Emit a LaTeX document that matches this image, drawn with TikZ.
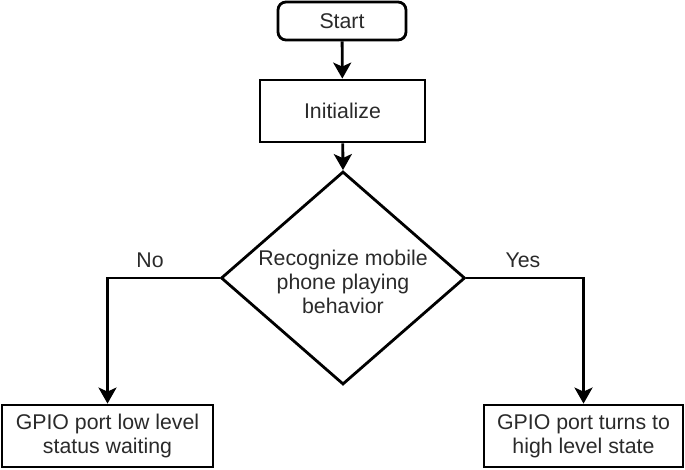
\documentclass[tikz,border=0pt]{standalone}
\usepackage{fontspec}
\setmainfont{Liberation Sans}
\usetikzlibrary{shapes.geometric,arrows.meta}
\definecolor{txt}{HTML}{2a2a2a}
\begin{document}
\begin{tikzpicture}[x=1pt,y=1pt,
  box/.style={draw,line width=2.8pt,inner sep=0pt,text=txt,font=\fontsize{21.3}{24}\selectfont,align=center},
  lbl/.style={text=txt,font=\fontsize{21.3}{24}\selectfont,inner sep=0pt},
  arr/.style={line width=2.8pt,-{Triangle[length=16pt,width=18pt,inset=4pt]}}]
\useasboundingbox (0,0) rectangle (685,470);
\node[box,rounded corners=8pt,minimum width=128pt,minimum height=38pt] (start) at (342,449) {Start};
\node[box,minimum width=165pt,minimum height=62pt] (init) at (342.5,359) {Initialize};
\node[draw,line width=2.8pt,diamond,minimum width=244pt,minimum height=213pt,inner sep=0pt] (dia) at (343,192) {};
\node[lbl,align=center] (diatext) at (343,188) {Recognize mobile\\phone playing\\behavior};
\node[box,minimum width=211pt,minimum height=62pt] (left) at (107.5,34) {GPIO port low level\\status waiting};
\node[box,minimum width=199pt,minimum height=62pt] (right) at (583.5,34) {GPIO port turns to\\high level state};
\draw[arr] (start) -- (init);
\draw[arr] (init) -- (dia.north);
\draw[arr] (dia.west) -| (left.north);
\draw[arr] (dia.east) -| (right.north);
\node[lbl] (no) at (150,210) {No};
\node[lbl] (yes) at (523,210) {Yes};
\end{tikzpicture}
\end{document}
